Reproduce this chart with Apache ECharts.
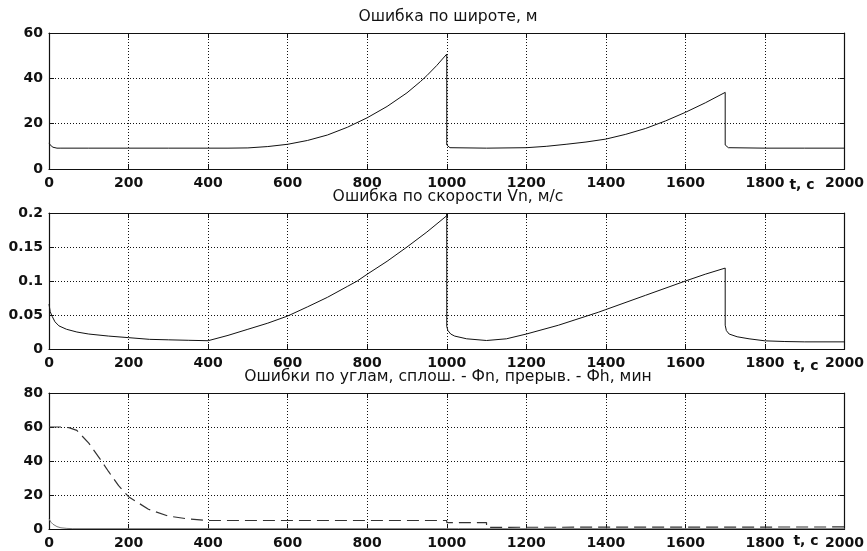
<!DOCTYPE html>
<html>
<head>
<meta charset="utf-8">
<script src="https://cdn.jsdelivr.net/npm/echarts@6/dist/echarts.min.js"></script>
<style>
html,body{margin:0;padding:0;background:#fff;}
#chart{width:867px;height:551px;}
</style>
</head>
<body>
<div id="chart"></div>
<script>
// ---- Data ----
var titles = ['Ошибка по широте, м', 'Ошибка по скорости Vn, м/с', 'Ошибки по углам, сплош. - Фn, прерыв. - Фh, мин'];
var xTickMax = 2000;
var xTickStep = 200;
var yMax = [60, 0.2, 80];
var yStep = [20, 0.05, 20];
var xName = 't, c';

// Panel 1: latitude error, m
var latT = [0,3,6,10,15,20,30,100,200,300,400,450,500,550,600,650,700,750,800,850,900,934,950,975,1000,
            1000,1003,1008,1013,1100,1200,1250,1300,1350,1400,1450,1500,1550,1600,1650,1700,
            1700,1703,1708,1713,1800,1900,2000];
var latV = [11.5,10.6,10.0,9.6,9.3,9.2,9.2,9.2,9.2,9.2,9.2,9.2,9.3,9.9,10.9,12.6,15.0,18.4,22.6,27.6,33.6,38.6,41.2,45.7,50.7,
            10.6,9.8,9.4,9.2,9.2,9.4,10.0,10.9,11.9,13.2,15.3,17.9,21.2,25.0,29.2,33.8,
            10.6,9.8,9.4,9.2,9.2,9.2,9.2];

// Panel 2: velocity error Vn, m/s
var velT = [0,3,8,15,25,44,70,100,150,200,253,300,350,400,450,500,550,600,650,700,750,775,800,850,900,950,1000,
            1000,1000,1003,1010,1020,1050,1100,1150,1200,1281,1381,1400,1500,1600,1650,1700,
            1700,1703,1710,1730,1760,1800,1850,1900,2000];
var velV = [0.066,0.055,0.048,0.040,0.034,0.029,0.025,0.022,0.019,0.0167,0.0142,0.0135,0.0128,0.0122,0.020,0.029,0.038,0.0485,0.062,0.076,0.092,0.100,0.110,0.129,0.150,0.172,0.196,
            0.2,0.033,0.027,0.022,0.019,0.015,0.0125,0.015,0.022,0.035,0.054,0.058,0.079,0.100,0.110,0.119,
            0.035,0.027,0.022,0.018,0.015,0.012,0.011,0.0105,0.0105];

// Panel 3: angle errors, min
var phiHT = [0,30,50,70,100,132,150,175,200,250,300,350,400,1000,1000,1100,1100,2000];
var phiHV = [60,60,59.6,58,50.5,40,33.7,25.5,19,11.6,7.6,5.9,5.0,5.0,3.8,3.8,1.0,1.2];
var phiNT = [0,5,10,20,30,45,60,2000];
var phiNV = [6,4,2.8,1.4,0.7,0.35,0.2,0.2];

function pairs(t, v){ var out=[]; for (var i=0;i<t.length;i++) out.push([t[i], v[i]]); return out; }

var chart = echarts.init(document.getElementById('chart'), null, {renderer:'canvas'});

var gridTops = [33, 213, 393];
var gridH = 136;
var labelFont = {fontFamily:'DejaVu Sans', fontWeight:'bold', fontSize:14, color:'#111'};
var grids=[], xAxes=[], yAxes=[];
for (var g=0; g<3; g++){
  grids.push({left:49, right:20, top:gridTops[g], height:gridH, show:false});
  xAxes.push({type:'value', gridIndex:g, min:0, max:xTickMax, interval:xTickStep, position:'bottom',
    axisLine:{show:true, onZero:false, lineStyle:{color:'#111', width:1.2}},
    axisTick:{show:true, inside:true, length:5, lineStyle:{color:'#111'}},
    axisLabel:Object.assign({margin:7, formatter:function(v){return String(v);}}, labelFont),
    splitLine:{show:true, lineStyle:{color:'#111', type:[1,2], width:1}}});
  xAxes.push({type:'value', gridIndex:g, min:0, max:xTickMax, interval:xTickStep, position:'top',
    axisLine:{show:true, onZero:false, lineStyle:{color:'#111', width:1.2}},
    axisTick:{show:true, inside:true, length:5, lineStyle:{color:'#111'}},
    axisLabel:{show:false}, splitLine:{show:false}});
  yAxes.push({type:'value', gridIndex:g, min:0, max:yMax[g], interval:yStep[g], position:'left',
    axisLine:{show:true, onZero:false, lineStyle:{color:'#111', width:1.2}},
    axisTick:{show:true, inside:true, length:5, lineStyle:{color:'#111'}},
    axisLabel:Object.assign({margin:6, formatter:function(v){return String(+v.toFixed(4));}}, labelFont),
    splitLine:{show:true, lineStyle:{color:'#111', type:[1,2], width:1}}});
  yAxes.push({type:'value', gridIndex:g, min:0, max:yMax[g], interval:yStep[g], position:'right',
    axisLine:{show:true, onZero:false, lineStyle:{color:'#111', width:1.2}},
    axisTick:{show:true, inside:true, length:5, lineStyle:{color:'#111'}},
    axisLabel:{show:false}, splitLine:{show:false}});
}

var series = [
  {type:'line', xAxisIndex:0, yAxisIndex:0, data:pairs(latT, latV), showSymbol:false, lineStyle:{color:'#111', width:1}},
  {type:'line', xAxisIndex:2, yAxisIndex:2, data:pairs(velT, velV), showSymbol:false, lineStyle:{color:'#111', width:1}},
  {type:'line', xAxisIndex:4, yAxisIndex:4, data:pairs(phiNT, phiNV), showSymbol:false, lineStyle:{color:'#777', width:1}},
  {type:'line', xAxisIndex:4, yAxisIndex:4, data:pairs(phiHT, phiHV), showSymbol:false, lineStyle:{color:'#333', width:1.2, type:[12,6]}}
];

var titleY = [17, 197, 377];
var nameX = [802, 806, 806];
var nameY = [185, 366, 541];
var graphics = [];
for (var k=0;k<3;k++){
  graphics.push({type:'text', x:448, y:titleY[k], scaleX:1.04, style:{text:titles[k], textAlign:'center', textVerticalAlign:'middle',
    fontFamily:'DejaVu Sans', fontSize:15, fill:'#111'}});
  graphics.push({type:'text', x:nameX[k], y:nameY[k], style:{text:xName, textAlign:'center', textVerticalAlign:'middle',
    fontFamily:'DejaVu Sans', fontWeight:'bold', fontSize:14, fill:'#111'}});
}

chart.setOption({
  animation:false,
  backgroundColor:'#fff',
  grid:grids, xAxis:xAxes, yAxis:yAxes, series:series, graphic:graphics
});
</script>
</body>
</html>
